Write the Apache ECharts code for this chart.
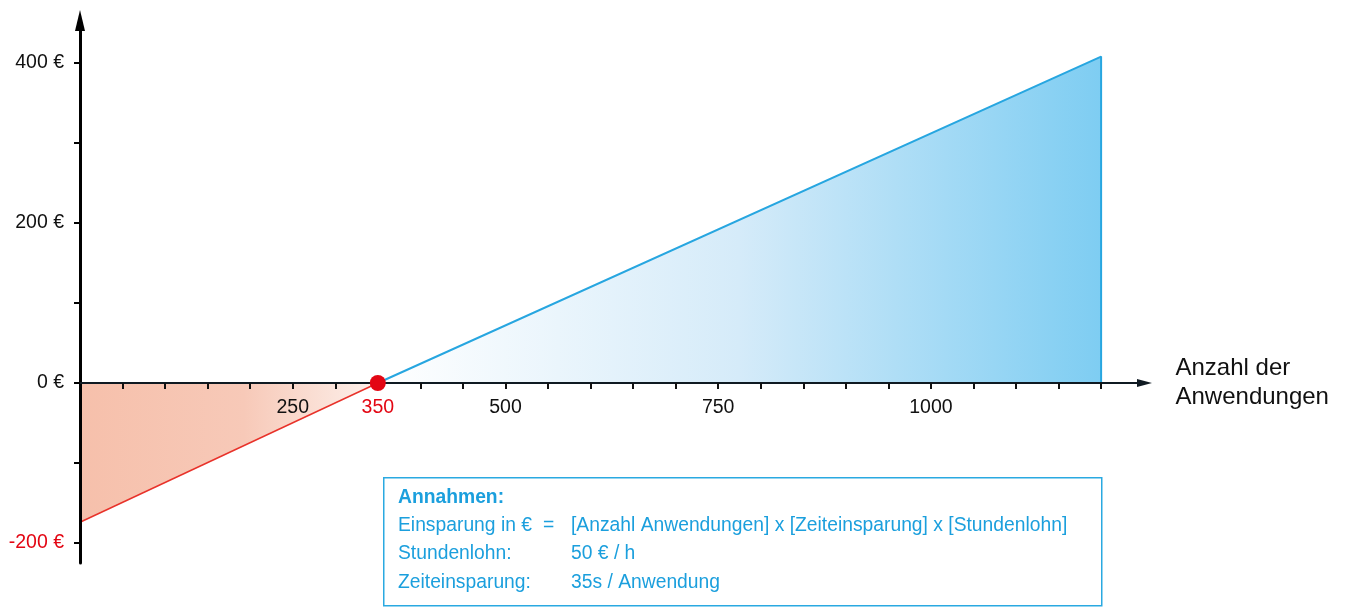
<!DOCTYPE html>
<html>
<head>
<meta charset="utf-8">
<title>Einsparung nach Anzahl der Anwendungen</title>
<script src="https://cdn.jsdelivr.net/npm/echarts@6/dist/echarts.min.js"></script>
<style>
  html, body { margin: 0; padding: 0; background: #fff; }
  #chart { width: 1349px; height: 607px; }
</style>
</head>
<body>
<div id="chart"></div>
<script>
// Anzahl der Anwendungen -> Einsparung in €
const lossSegment = [[0, -174], [350, 0]];
const savingSegment = [[350, 0], [1200, 408], [1200, 0]];
const breakEven = [[350, 0]];

// Axis ticks and labels
const xTicks = [50, 100, 150, 200, 250, 300, 350, 400, 450, 500, 550, 600, 650, 700, 750,
                800, 850, 900, 950, 1000, 1050, 1100, 1150, 1200];
const xLabels = [250, 350, 500, 750, 1000];
const yTicks = [-200, -100, 0, 100, 200, 300, 400];
const yLabels = [-200, 0, 200, 400];

// Info box text
const boxTitle = 'Annahmen:';
const boxRows = [
  ['Einsparung in €', '=', '[Anzahl Anwendungen] x [Zeiteinsparung] x [Stundenlohn]'],
  ['Stundenlohn:', '', '50 € / h'],
  ['Zeiteinsparung:', '', '35s / Anwendung']
];

const RED = '#e30613';
const BLUE = '#27a6e0';
const TEXT_BLUE = '#1b9fdd';
const FONT = '"Liberation Sans", Arial, Helvetica, sans-serif';
const BOX_FONT = '19.3px ' + FONT;

const chart = echarts.init(document.getElementById('chart'), null, { renderer: 'canvas' });

const graphics = [
  {
    type: 'rect',
    left: 383, top: 477,
    shape: { width: 718, height: 128 },
    style: { fill: '#fff', stroke: '#2aa9e1', lineWidth: 1.5 },
    z: 20
  },
  {
    type: 'text', x: 398, y: 498, z: 21,
    style: { text: boxTitle, fill: TEXT_BLUE, font: 'bold 19.3px ' + FONT, verticalAlign: 'middle' }
  }
];
const rowY = [526, 554, 583];
boxRows.forEach((row, i) => {
  graphics.push({
    type: 'text', x: 398, y: rowY[i], z: 21,
    style: { text: row[0], fill: TEXT_BLUE, font: BOX_FONT, verticalAlign: 'middle' }
  });
  if (row[1]) {
    graphics.push({
      type: 'text', x: 543, y: rowY[i], z: 21,
      style: { text: row[1], fill: TEXT_BLUE, font: BOX_FONT, verticalAlign: 'middle' }
    });
  }
  graphics.push({
    type: 'text', x: 571, y: rowY[i], z: 21,
    style: { text: row[2], fill: TEXT_BLUE, font: BOX_FONT, verticalAlign: 'middle' }
  });
});

// tick labels sitting under the zero line
const xLabelData = xLabels.map((v) => ({
  value: [v, 0],
  label: { color: v === 350 ? RED : '#111' }
}));

chart.setOption({
  animation: false,
  backgroundColor: '#fff',
  textStyle: { fontFamily: FONT },
  grid: {
    left: 80, right: 204.5, top: 20.5, bottom: 44,
    containLabel: false,
    outerBoundsMode: 'none'
  },
  xAxis: {
    type: 'value',
    min: 0, max: 1251,
    z: 5,
    name: 'Anzahl der\nAnwendungen',
    nameLocation: 'end',
    nameGap: 31,
    nameTextStyle: {
      fontSize: 24, color: '#111', lineHeight: 29,
      align: 'left', verticalAlign: 'middle', padding: [6, 0, 0, 0]
    },
    splitLine: { show: false },
    axisLine: {
      onZero: true,
      symbol: ['none', 'triangle'],
      symbolSize: [8, 15],
      lineStyle: { color: '#0f1a22', width: 2 }
    },
    axisTick: {
      show: true, inside: false, length: 6,
      customValues: xTicks,
      lineStyle: { color: '#111', width: 2 }
    },
    axisLabel: { show: false }
  },
  yAxis: {
    type: 'value',
    min: -225, max: 453.1,
    z: 5,
    splitLine: { show: false },
    axisLine: {
      onZero: false,
      symbol: ['none', 'triangle'],
      symbolSize: [10, 21],
      lineStyle: { color: '#000', width: 3 }
    },
    axisTick: {
      show: true, inside: false, length: 6,
      customValues: yTicks,
      lineStyle: { color: '#000', width: 2 }
    },
    axisLabel: {
      show: true,
      customValues: yLabels,
      margin: 16,
      fontSize: 19.5,
      formatter: (v) => v + ' €',
      color: (v) => (Number(v) < 0 ? RED : '#111')
    }
  },
  series: [
    {
      type: 'line',
      data: lossSegment,
      symbol: 'none',
      z: 2,
      lineStyle: { color: '#e8322a', width: 1.5 },
      areaStyle: {
        opacity: 1,
        color: new echarts.graphic.LinearGradient(0, 0, 1, 0, [
          { offset: 0, color: '#f6c0ab' },
          { offset: 0.55, color: '#f7c9b8' },
          { offset: 1, color: '#fdf1ec' }
        ])
      }
    },
    {
      type: 'line',
      data: savingSegment,
      symbol: 'none',
      z: 2,
      lineStyle: { color: BLUE, width: 2 },
      areaStyle: {
        opacity: 1,
        color: new echarts.graphic.LinearGradient(0, 0, 1, 0, [
          { offset: 0, color: '#ffffff' },
          { offset: 0.5, color: '#d5ebf9' },
          { offset: 1, color: '#7ecdf2' }
        ])
      }
    },
    {
      type: 'scatter',
      data: xLabelData,
      symbolSize: 0,
      silent: true,
      z: 6,
      itemStyle: { opacity: 1 },
      label: {
        show: true,
        position: 'bottom',
        distance: 15,
        fontSize: 19.5,
        fontFamily: FONT,
        color: '#111',
        formatter: (p) => String(p.value[0])
      }
    },
    {
      type: 'scatter',
      data: breakEven,
      symbol: 'circle',
      symbolSize: 16,
      z: 10,
      itemStyle: { color: RED, opacity: 1 }
    }
  ],
  graphic: graphics
});
</script>
</body>
</html>
